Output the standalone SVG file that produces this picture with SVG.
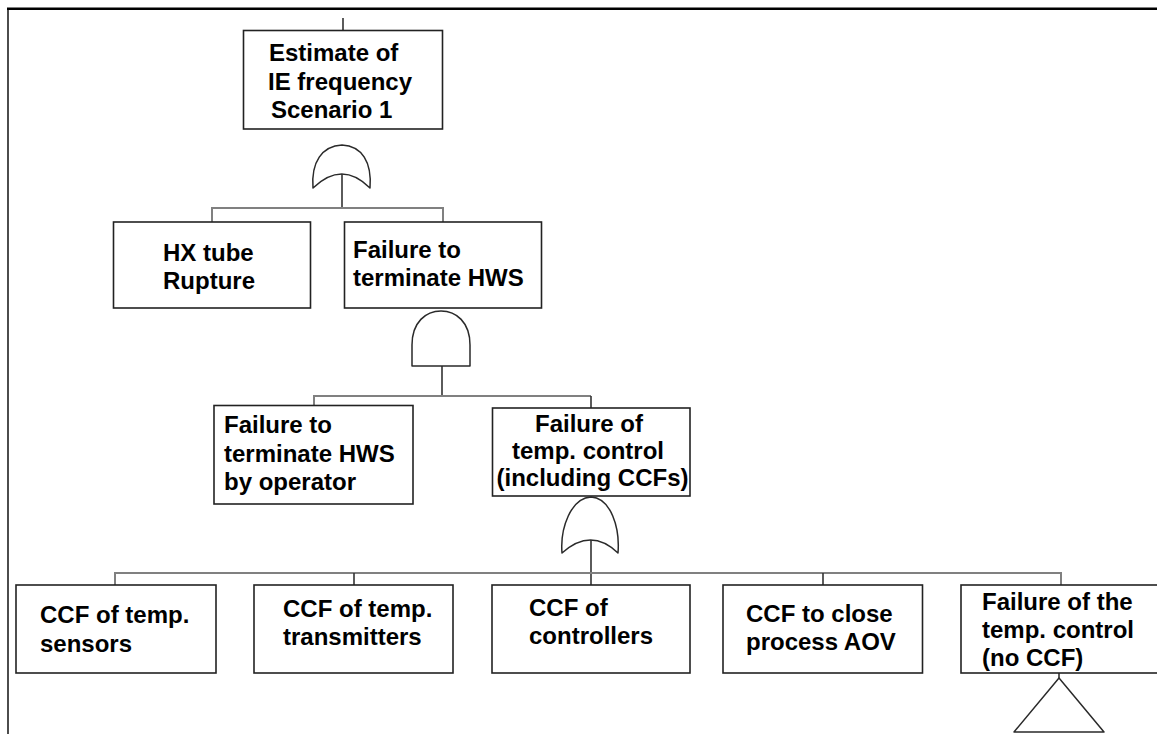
<svg xmlns="http://www.w3.org/2000/svg" width="1157" height="734" viewBox="0 0 1157 734">
  <style>
    .box { fill: #fff; stroke: #222; stroke-width: 1.6; }
    .gate { fill: #fff; stroke: #2a2a2a; stroke-width: 1.5; stroke-linejoin: round; }
    .v { stroke: #333; stroke-width: 1.6; fill: none; }
    .h { stroke: #808080; stroke-width: 2; fill: none; }
    text { font-family: "Liberation Sans", Arial, sans-serif; font-weight: bold; font-size: 24px; fill: #000; }
    .mid { text-anchor: middle; }
  </style>

  <rect width="1157" height="734" fill="#fff"/>

  <!-- frame -->
  <g id="frame">
    <line x1="7" y1="8.7" x2="1157" y2="8.7" stroke="#000" stroke-width="2.6"/>
    <line x1="8" y1="9" x2="8" y2="734" stroke="#000" stroke-width="1.4"/>
  </g>

  <!-- connectors -->
  <g id="connectors">
    <line class="v" x1="343" y1="18" x2="343" y2="30"/>
    <line class="v" x1="342" y1="174" x2="342" y2="208"/>
    <polyline class="h" points="212,222 212,208 443,208 443,222"/>

    <line class="v" x1="442" y1="366" x2="442" y2="396"/>
    <polyline class="h" points="314,406 314,396 591,396"/>
    <line class="v" x1="591" y1="396" x2="591" y2="408"/>

    <line class="v" x1="591" y1="540" x2="591" y2="585"/>
    <polyline class="h" points="115,585 115,573 1061,573 1061,585"/>
    <line class="v" x1="354" y1="573" x2="354" y2="585"/>
    <line class="v" x1="823" y1="573" x2="823" y2="585"/>
    <line class="v" x1="1059" y1="673" x2="1059" y2="678"/>
  </g>

  <!-- gates -->
  <g id="gate-or-top">
    <path class="gate" d="M313,188 C311,162 322,146 342,145 C362,146 372,162 370,188 Q342,160 313,188 Z"/>
  </g>
  <g id="gate-and">
    <path class="gate" d="M412,366 L412,345 C412,322 426,311 441,311 C456,311 470,322 470,345 L470,366 Z"/>
  </g>
  <g id="gate-or-control">
    <path class="gate" d="M562,553 C560,528 571,498 591,497 C611,498 620,528 618,553 Q591,527 562,553 Z"/>
  </g>

  <!-- top event -->
  <g id="top-event">
    <rect class="box" x="243.5" y="30.5" width="199" height="98.5"/>
    <text x="269" y="61">Estimate of</text>
    <text x="268" y="89.5">IE frequency</text>
    <text x="271" y="118">Scenario 1</text>
  </g>

  <g id="hx-tube-rupture">
    <rect class="box" x="113.5" y="222" width="197" height="86"/>
    <text x="163" y="261">HX tube</text>
    <text x="163" y="289">Rupture</text>
  </g>

  <g id="failure-terminate-hws">
    <rect class="box" x="344.5" y="222" width="197" height="86"/>
    <text x="353" y="258">Failure to</text>
    <text x="353" y="286">terminate HWS</text>
  </g>

  <g id="failure-terminate-operator">
    <rect class="box" x="214" y="405.5" width="199" height="98.5"/>
    <text x="224" y="433">Failure to</text>
    <text x="224" y="462">terminate HWS</text>
    <text x="224" y="490">by operator</text>
  </g>

  <g id="failure-temp-control">
    <rect class="box" x="492.5" y="408" width="197.5" height="88"/>
    <text class="mid" x="589" y="431.5">Failure of</text>
    <text class="mid" x="588" y="458.5">temp. control</text>
    <text class="mid" x="592.5" y="486">(including CCFs)</text>
  </g>

  <g id="ccf-sensors">
    <rect class="box" x="16" y="585" width="200" height="88"/>
    <text x="40" y="623">CCF of temp.</text>
    <text x="40" y="652">sensors</text>
  </g>

  <g id="ccf-transmitters">
    <rect class="box" x="254" y="585" width="199" height="88"/>
    <text x="283" y="617">CCF of temp.</text>
    <text x="283" y="645">transmitters</text>
  </g>

  <g id="ccf-controllers">
    <rect class="box" x="492" y="585" width="198" height="88"/>
    <text x="529" y="616">CCF of</text>
    <text x="529" y="644">controllers</text>
  </g>

  <g id="ccf-close-aov">
    <rect class="box" x="723" y="585" width="199.5" height="88"/>
    <text x="746" y="622">CCF to close</text>
    <text x="746" y="650">process AOV</text>
  </g>

  <g id="failure-temp-control-no-ccf">
    <rect class="box" x="961" y="585" width="205" height="88"/>
    <text x="982" y="610">Failure of the</text>
    <text x="982" y="638">temp. control</text>
    <text x="982" y="666">(no CCF)</text>
    <polygon class="gate" points="1059,678 1104,732 1014,732"/>
  </g>
</svg>
